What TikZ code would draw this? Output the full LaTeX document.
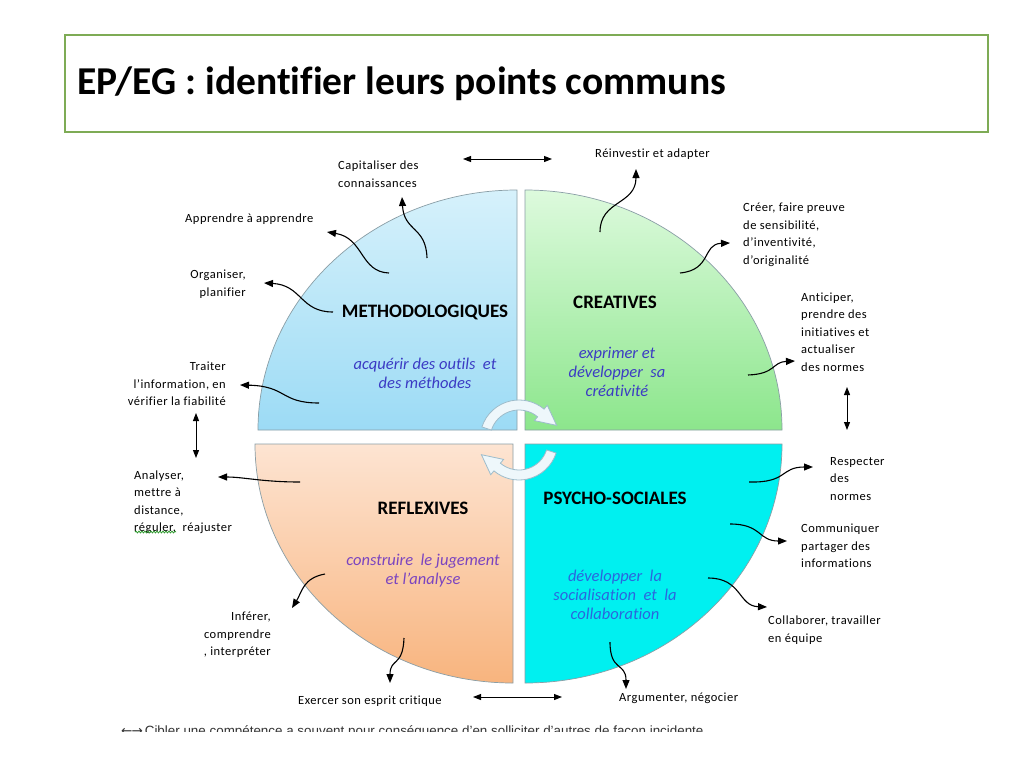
\documentclass[tikz,border=0pt]{standalone}
\usepackage{fontspec}
\setmainfont{Carlito}[Ligatures={NoCommon}]
\newfontfamily\lblfont{Carlito}[LetterSpace=4.0, Ligatures={NoCommon}]
\newfontfamily\notefont{Liberation Sans}
\newfontfamily\arrowfont{DejaVu Sans}
\usetikzlibrary{arrows.meta,decorations.pathmorphing}

\definecolor{titlegreen}{HTML}{7EAB55}
\definecolor{qline}{HTML}{8A9EA6}
\definecolor{methtop}{HTML}{D6F1FB}
\definecolor{methbot}{HTML}{9CDBF5}
\definecolor{creatop}{HTML}{DDFADD}
\definecolor{creabot}{HTML}{8CE68C}
\definecolor{refltop}{HTML}{FDE4D2}
\definecolor{reflbot}{HTML}{F8B47E}
\definecolor{psyfill}{HTML}{00F0F0}
\definecolor{rotfill}{HTML}{EEF7FB}
\definecolor{rotline}{HTML}{9DBCCB}
\definecolor{descblue}{HTML}{3B3BC4}
\definecolor{descviolet}{HTML}{7A44C0}
\definecolor{descsky}{HTML}{2A66DE}
\definecolor{spellgreen}{HTML}{2E9A2E}

\tikzset{
  lbl/.style={inner sep=0pt, font={\lblfont\fontsize{12.5}{17.5}\selectfont}},
  qtitle/.style={inner sep=0pt, font={\bfseries\fontsize{19}{21}\selectfont}},
  qdesc/.style={inner sep=0pt, align=center, font={\itshape\fontsize{16.5}{19}\selectfont}},
  quad/.style={draw=qline, line width=0.7pt},
  curly/.style={line width=1.1pt, -{Triangle[length=9pt,width=7pt]}},
  both/.style={line width=1pt, {Triangle[length=8pt,width=6pt]}-{Triangle[length=8pt,width=6pt]}},
  rotarrow/.style={fill=rotfill, draw=rotline, line width=0.8pt},
}

\begin{document}
\begin{tikzpicture}[x=1pt,y=-1pt]
\useasboundingbox (0,0) rectangle (1024,768);
\fill[white] (0,0) rectangle (1024,768);

% title
\draw[titlegreen, line width=1.2pt] (65,35) rectangle (988,132);
\node[anchor=west, inner sep=0pt, font={\bfseries\fontsize{39.5}{44}\selectfont}] (ttl) at (77,84) {EP/EG : identifier leurs points communs};

% the four quarters
\shade[quad, top color=methtop, bottom color=methbot] (517,430) -- (258,430) arc[start angle=-180, end angle=-90, x radius=259, y radius=240] -- cycle;
\shade[quad, top color=creatop, bottom color=creabot] (525,430) -- (525,190) arc[start angle=-90, end angle=0, x radius=257, y radius=240] -- cycle;
\shade[quad, top color=refltop, bottom color=reflbot] (513,444) -- (513,683) arc[start angle=90, end angle=180, x radius=258, y radius=239] -- cycle;
\fill[quad, fill=psyfill] (525,444) -- (782,444) arc[start angle=0, end angle=90, x radius=257, y radius=239] -- cycle;

% turning arrows
\begin{scope}[shift={(519,439)}]
  \filldraw[rotarrow] (-162:39) arc[start angle=-162, end angle=-50, radius=39] -- (-50:44) -- (-20:40) -- (-50:24) -- (-50:29) arc[start angle=-50, end angle=-162, radius=29] -- cycle;
\end{scope}
\begin{scope}[shift={(519,441)}, rotate=180]
  \filldraw[rotarrow] (-162:39) arc[start angle=-162, end angle=-50, radius=39] -- (-50:44) -- (-20:40) -- (-50:24) -- (-50:29) arc[start angle=-50, end angle=-162, radius=29] -- cycle;
\end{scope}

% quarter texts
\node[qtitle] (methT) at (425,312) {METHODOLOGIQUES};
\node[qdesc, text=descblue] (methD) at (425,373) {acquérir des outils\ \ et\\des méthodes};
\node[qtitle] (creaT) at (615,302) {CREATIVES};
\node[qdesc, text=descblue] (creaD) at (617,372) {exprimer et\\développer\ \ sa\\créativité};
\node[qtitle] (reflT) at (423,508) {REFLEXIVES};
\node[qdesc, text=descviolet] (reflD) at (423,571) {construire\ \ le jugement\\et l'analyse};
\node[qtitle] (psyT) at (615,498) {PSYCHO-SOCIALES};
\node[qdesc, text=descsky] (psyD) at (615,595) {développer\ \ la\\socialisation\ \ et\ \ la\\collaboration};

% labels
\node[lbl, anchor=west, align=left] (cap) at (338,174) {Capitaliser des\\connaissances};
\node[lbl, anchor=west] (appr) at (185,219) {Apprendre à apprendre};
\node[lbl, anchor=east, align=right] (orga) at (246,284) {Organiser,\\planifier};
\node[lbl, anchor=east, align=right] (trait) at (226,384) {Traiter\\l’information, en\\vérifier la fiabilité};
\node[lbl, anchor=west] (rein) at (595,154) {Réinvestir et adapter};
\node[lbl, anchor=west, align=left] (creer) at (743,235) {Créer, faire preuve\\de sensibilité,\\d’inventivité,\\d’originalité};
\node[lbl, anchor=west, align=left] (antic) at (801,332) {Anticiper,\\prendre des\\initiatives et\\actualiser\\des normes};
\node[lbl, anchor=west, align=left] (resp) at (830,479) {Respecter\\des\\normes};
\node[lbl, anchor=west, align=left] (comm) at (801,546) {Communiquer\\partager des\\informations};
\node[lbl, anchor=west, align=left] (coll) at (768,630) {Collaborer, travailler\\en équipe};
\node[lbl, anchor=west] (argu) at (619,698) {Argumenter, négocier};
\node[lbl, anchor=west] (exer) at (298,701) {Exercer son esprit critique};
\node[lbl, anchor=east, align=right] (infer) at (271,635) {Inférer,\\comprendre\\, interpréter};
\node[lbl, anchor=west, align=left] (analy) at (134,502) {Analyser,\\mettre à\\distance,\\réguler,\ \ réajuster};

% spelling mark
\coordinate (reguA) at (135,532);
\coordinate (reguB) at (176,532);
\draw[spellgreen, line width=0.8pt, decorate, decoration={snake, amplitude=0.9pt, segment length=3pt}] (reguA) -- (reguB);

% curly arrows
\coordinate (capS) at (427,258);  \coordinate (capT) at (402,197);
\coordinate (apprS) at (389,273); \coordinate (apprT) at (327,232);
\coordinate (orgaS) at (333,312); \coordinate (orgaT) at (264,283);
\coordinate (traitS) at (319,403); \coordinate (traitT) at (240,385);
\coordinate (reinS) at (600,232); \coordinate (reinT) at (636,169);
\coordinate (creerS) at (680,273); \coordinate (creerT) at (730,243);
\coordinate (anticS) at (748,375); \coordinate (anticT) at (795,361);
\coordinate (respS) at (749,482); \coordinate (respT) at (813,467);
\coordinate (commS) at (730,524); \coordinate (commT) at (787,541);
\coordinate (collS) at (708,578); \coordinate (collT) at (767,607);
\coordinate (arguS) at (610,642); \coordinate (arguT) at (626,689);
\coordinate (exerS) at (404,638); \coordinate (exerT) at (390,683);
\coordinate (inferS) at (325,574); \coordinate (inferT) at (292,608);
\coordinate (analyS) at (300,482); \coordinate (analyT) at (218,477);

\draw[curly] (capS) .. controls (426,226) and (404,232) .. (capT);
\draw[curly] (apprS) .. controls (360,272) and (364,238) .. (apprT);
\draw[curly] (orgaS) .. controls (300,312) and (302,285) .. (orgaT);
\draw[curly] (traitS) .. controls (280,403) and (287,386) .. (traitT);
\draw[curly] (reinS) .. controls (600,200) and (636,205) .. (reinT);
\draw[curly] (creerS) .. controls (712,270) and (702,244) .. (creerT);
\draw[curly] (anticS) .. controls (776,374) and (772,362) .. (anticT);
\draw[curly] (respS) .. controls (788,483) and (780,467) .. (respT);
\draw[curly] (commS) .. controls (762,524) and (758,541) .. (commT);
\draw[curly] (collS) .. controls (742,578) and (738,606) .. (collT);
\draw[curly] (arguS) .. controls (610,672) and (626,662) .. (arguT);
\draw[curly] (exerS) .. controls (403,667) and (390,658) .. (exerT);
\draw[curly] (inferS) .. controls (303,578) and (302,592) .. (inferT);
\draw[curly] (analyS) .. controls (262,482) and (244,477) .. (analyT);

% two-way arrows
\coordinate (topL) at (463,159);  \coordinate (topR) at (552,159);
\coordinate (botL) at (473,697);  \coordinate (botR) at (562,697);
\coordinate (leftU) at (196,413); \coordinate (leftD) at (196,458);
\coordinate (rightU) at (847,387); \coordinate (rightD) at (847,430);
\draw[both] (topL) -- (topR);
\draw[both] (botL) -- (botR);
\draw[both] (leftU) -- (leftD);
\draw[both] (rightU) -- (rightD);

% note, cut at the bottom
\begin{scope}
  \clip (100,705) rectangle (760,731.5);
  \node[anchor=base west, inner sep=0pt, font={\notefont\fontsize{13.4}{15}\selectfont}, text=black!80] (note) at (121,735) {{\arrowfont\fontsize{13.5}{15}\selectfont ←\kern-1pt→}\kern2pt Cibler une compétence a souvent pour conséquence d’en solliciter d’autres de façon incidente};
\end{scope}
\end{tikzpicture}
\end{document}
